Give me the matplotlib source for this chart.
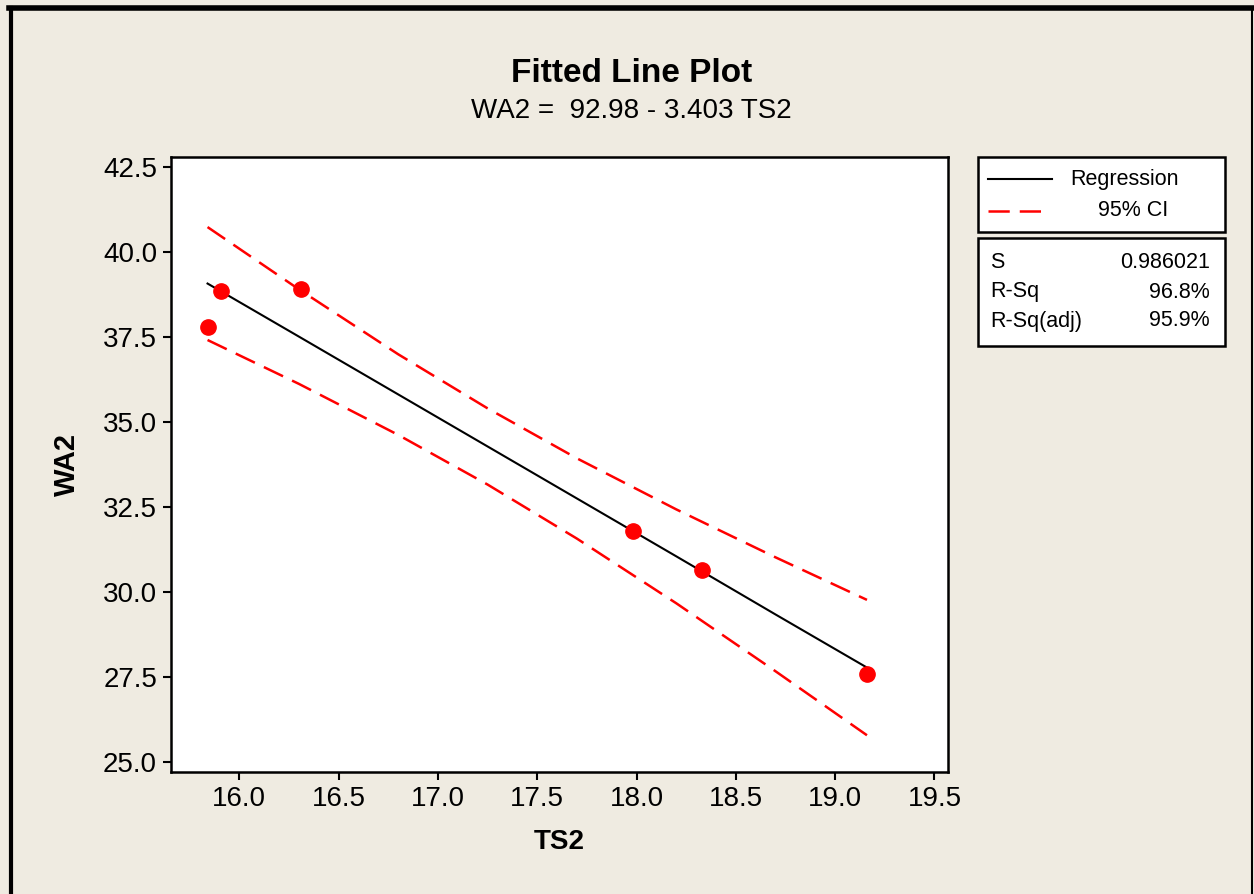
import matplotlib
matplotlib.use("Agg")
import matplotlib.pyplot as plt
from matplotlib.patches import Rectangle
from matplotlib.lines import Line2D

plt.rcParams['font.family'] = ['Liberation Sans', 'DejaVu Sans']

# observed points
ts2 = [15.84, 15.91, 16.31, 17.98, 18.33, 19.16]
wa2 = [37.80, 38.85, 38.90, 31.80, 30.65, 27.60]

# fitted line and 95% CI
fit_x = [15.84, 16.30, 16.80, 17.25, 17.70, 18.20, 18.70, 19.16]
fit_y = [39.07, 37.51, 35.81, 34.28, 32.75, 31.05, 29.34, 27.78]
ci_up = [40.73, 38.90, 36.99, 35.40, 33.93, 32.43, 31.02, 29.77]
ci_lo = [37.41, 36.12, 34.62, 33.16, 31.57, 29.67, 27.67, 25.79]

xticks = [16.0, 16.5, 17.0, 17.5, 18.0, 18.5, 19.0, 19.5]
yticks = [25.0, 27.5, 30.0, 32.5, 35.0, 37.5, 40.0, 42.5]

stats_names = ["S", "R-Sq", "R-Sq(adj)"]
stats_vals = ["0.986021", "96.8%", "95.9%"]

W, H = 1254, 894
bg = '#efebe1'
fig = plt.figure(figsize=(W / 100, H / 100), dpi=100, facecolor=bg)

def fx(px):
    return px / W

def fy(py):
    return 1 - py / H

ax = fig.add_axes([fx(171), fy(772), fx(948) - fx(171), fy(157) - fy(772)])
ax.set_facecolor('white')

ax.plot(fit_x, fit_y, color='black', lw=1.5)
ax.plot(fit_x, ci_up, color='red', lw=1.8, dashes=(8.5, 4))
ax.plot(fit_x, ci_lo, color='red', lw=1.8, dashes=(8.5, 4))
ax.plot(ts2, wa2, 'o', color='red', ms=11, zorder=5)

ax.set_xlim(15.656, 19.568)
ax.set_ylim(24.71, 42.79)
ax.set_xticks(xticks)
ax.set_yticks(yticks)
ax.set_xticklabels([f"{v:.1f}" for v in xticks])
ax.set_yticklabels([f"{v:.1f}" for v in yticks])
ax.tick_params(axis='both', direction='out', length=6, width=1.5, labelsize=20,
               pad=4, top=False, right=False)
for s in ax.spines.values():
    s.set_linewidth(1.8)

ax.set_xlabel("TS2", fontsize=20, fontweight='bold', labelpad=12)
ax.set_ylabel("WA2", fontsize=21, fontweight='bold', labelpad=16)

fig.text(fx(632), fy(73), "Fitted Line Plot", fontsize=24, fontweight='bold',
         ha='center', va='center')
fig.text(fx(631), fy(111), "WA2 =  92.98 - 3.403 TS2", fontsize=20,
         ha='center', va='center')

# legend boxes
box_kw = dict(transform=fig.transFigure, facecolor='white', edgecolor='black',
              lw=1.8, zorder=1)
fig.patches.append(Rectangle((fx(978), fy(232)), fx(1225) - fx(978),
                             fy(157) - fy(232), **box_kw))
fig.patches.append(Rectangle((fx(978), fy(346)), fx(1225) - fx(978),
                             fy(238) - fy(346), **box_kw))

fig.lines.append(Line2D([fx(988), fx(1052)], [fy(179), fy(179)], color='black',
                        lw=1.5, transform=fig.transFigure))
fig.lines.append(Line2D([fx(988), fx(1046)], [fy(211), fy(211)], color='red',
                        lw=1.8, dashes=(8.5, 4), transform=fig.transFigure))
fig.text(fx(1070), fy(180), "Regression", fontsize=15.5, va='center')
fig.text(fx(1098), fy(211), "95% CI", fontsize=15.5, va='center')

for i, (n, v) in enumerate(zip(stats_names, stats_vals)):
    y = fy(263 + 29 * i)
    fig.text(fx(990), y, n, fontsize=15.5, va='center')
    fig.text(fx(1210), y, v, fontsize=15.5, va='center', ha='right')

# outer frame of the graph window
fig.lines.append(Line2D([fx(9), fx(1254)], [fy(8), fy(8)], color='black', lw=4,
                        transform=fig.transFigure))
fig.lines.append(Line2D([fx(11), fx(11)], [fy(8), fy(894)], color='black', lw=3,
                        transform=fig.transFigure))
fig.lines.append(Line2D([fx(1252), fx(1252)], [fy(8), fy(894)], color='black', lw=1.5,
                        transform=fig.transFigure))

fig.savefig("out.png", dpi=100, facecolor=bg)
